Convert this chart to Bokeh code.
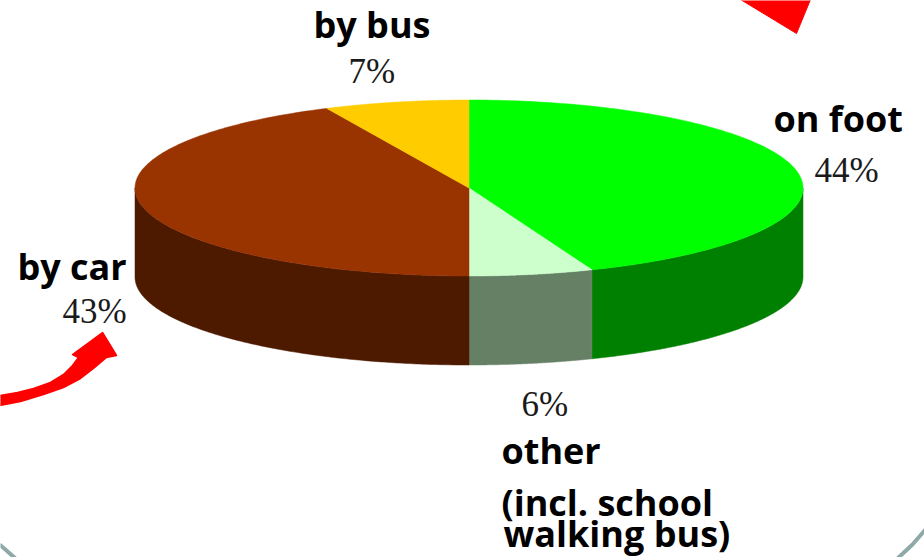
import numpy as np
from bokeh.plotting import figure
from bokeh.models import Range1d
from bokeh.core.properties import value
from bokeh.embed import file_html
from bokeh.resources import INLINE

# Share of children per mode of travel, clockwise from twelve o'clock
modes = ["on foot", "other", "by car", "by bus"]
shares = [44, 6, 43, 7]
top_colors = ["#00FF00", "#CCFFCC", "#993300", "#FFCC00"]
wall_colors = ["#008000", "#668066", "#4D1A00", "#806600"]

CX, CY, RX, RY, DEPTH = 468.5, 187.5, 334, 88, 89

W, H = 924, 557
p = figure(width=W, height=H, x_range=Range1d(0, W), y_range=Range1d(H, 0),
           output_backend="svg", toolbar_location=None, min_border=0,
           background_fill_color="white", border_fill_color="white")
p.axis.visible = False
p.grid.visible = False
p.outline_line_color = None


def rim(a0, a1):
    t = np.radians(np.linspace(a0, a1, 160))
    return CX + RX * np.sin(t), CY - RY * np.cos(t)


# Walls first: only the arc facing the viewer (90 to 270 degrees) is visible
start = 0.0
for share, wall in zip(shares, wall_colors):
    end = start + share * 3.6
    lo, hi = max(start, 90.0), min(end, 270.0)
    if hi > lo:
        x, y = rim(lo, hi)
        p.patch(np.r_[x, x[::-1]], np.r_[y, y[::-1] + DEPTH],
                fill_color=wall, line_color=wall, line_width=0.5)
    start = end

# Top face of the disc
start = 0.0
for share, top in zip(shares, top_colors):
    end = start + share * 3.6
    x, y = rim(start, end)
    p.patch(np.r_[CX, x], np.r_[CY, y], fill_color=top, line_color=top, line_width=0.5)
    start = end

# Red arrows running off the page
arrow_x = [-1, 17, 33, 50, 63, 72, 78, 72, 102, 116, 106, 93, 80, 63, 43, 20, -1]
arrow_y = [395, 392, 388, 382, 374, 365, 357, 354, 332, 355, 357, 368, 378, 387, 394, 401, 405]
p.patch(arrow_x, arrow_y, fill_color="#FF0000", line_color="#FF0000",
        line_width=1.5, line_join="round")
p.patch([740, 796, 810], [-1, 33, -1], fill_color="#FF0000", line_color="#FF0000",
        line_width=1, line_join="round")

# Rounded frame visible in the bottom corners
p.line([-1, 6, 15], [544, 550, 558], line_color="#8FA8A8", line_width=4)
p.line([925, 912, 897], [529, 544, 558], line_color="#8FA8A8", line_width=4)


def bold(x, y, s):
    p.text([x], [y], text=[s], text_font=value("Open Sans"), text_font_style="bold",
           text_font_size="36px", text_color="#000000",
           text_align="left", text_baseline="alphabetic")


def pct(x, y, s):
    p.text([x], [y], text=[s], text_font=value("Liberation Serif"),
           text_font_size="35px", text_color="#1a1a1a",
           text_align="left", text_baseline="alphabetic")


labels = {m: f"{s}%" for m, s in zip(modes, shares)}
bold(313, 24, "by bus")
pct(348, 71, labels["by bus"])
bold(773, 118, "on foot")
pct(814, 170, labels["on foot"])
bold(17, 266, "by car")
pct(62, 311, labels["by car"])
pct(521, 404, labels["other"])
bold(501, 450, "other")
bold(501, 502, "(incl. school")
bold(503, 533, "walking bus)")

open("out.html", "w").write(file_html(p, INLINE))
